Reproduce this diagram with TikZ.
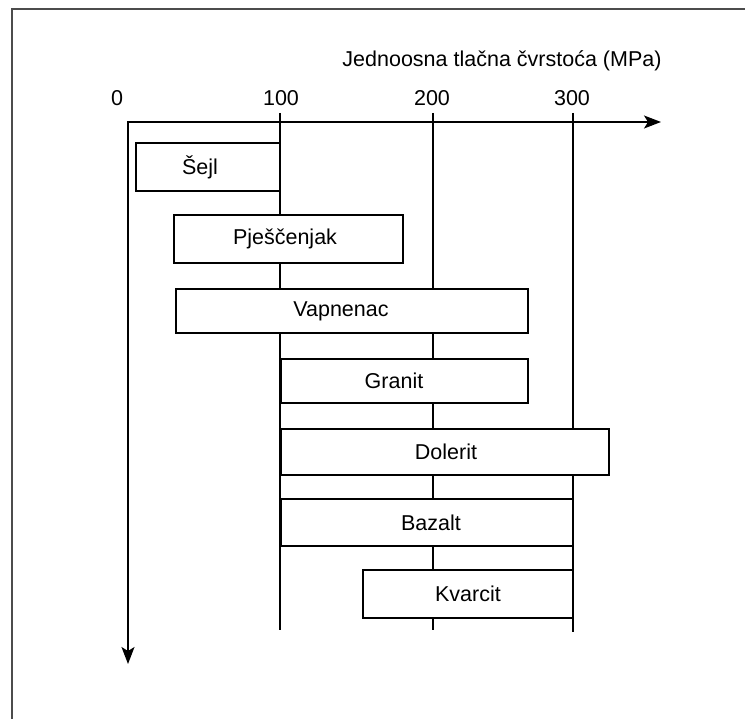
\documentclass[tikz,border=0pt]{standalone}
\usepackage{fontspec}
\setmainfont{Liberation Sans}
\usetikzlibrary{arrows.meta}
\begin{document}
\begin{tikzpicture}[x=1pt,y=-1pt,
  rockbox/.style={draw=black, line width=1.4pt, fill=white, inner sep=0pt},
  lbl/.style={font=\fontsize{21.5}{25}\selectfont, inner sep=0pt},
  grid/.style={line width=1.4pt},
  frameline/.style={draw=black!70, line width=2.4pt}]
\useasboundingbox (0,0) rectangle (745,719);
% frame (cropped)
\coordinate (fbl) at (12,719);
\coordinate (ftl) at (12,9);
\coordinate (ftr) at (745,9);
\draw[frameline] (fbl) -- (ftl) -- (ftr);
% grid lines
\coordinate (g1t) at (280,113); \coordinate (g1b) at (280,630);
\coordinate (g2t) at (433,113); \coordinate (g2b) at (433,630);
\coordinate (g3t) at (573,113); \coordinate (g3b) at (573,632);
\draw[grid] (g1t) -- (g1b);
\draw[grid] (g2t) -- (g2b);
\draw[grid] (g3t) -- (g3b);
% axes
\coordinate (xend) at (661,122);
\coordinate (origin) at (128,122);
\coordinate (yend) at (128,664);
\draw[line width=1.4pt, {Stealth[length=17pt,width=13pt,inset=4pt]}-{Stealth[length=17pt,width=13pt,inset=4pt]}] (xend) -- (origin) -- (yend);
% labels of axis
\node[lbl] (title) at (502,61) {Jednoosna tlačna čvrstoća (MPa)};
\node[lbl] (t0) at (117,98) {0};
\node[lbl] (t100) at (281,98) {100};
\node[lbl] (t200) at (432,98) {200};
\node[lbl] (t300) at (572,98) {300};
% boxes
\node[rockbox, minimum width=144pt, minimum height=48pt] (sejl) at (208,167) {};
\node[lbl] (sejlt) at (200,167) {Šejl};
\node[rockbox, minimum width=229pt, minimum height=48pt] (pjes) at (288.5,239) {};
\node[lbl] (pjest) at (285,239) {Pješčenjak};
\node[rockbox, minimum width=352pt, minimum height=44pt] (vapn) at (352,311) {};
\node[lbl] (vapnt) at (341,311) {Vapnenac};
\node[rockbox, minimum width=247pt, minimum height=44pt] (gran) at (404.5,381) {};
\node[lbl] (grant) at (394,381) {Granit};
\node[rockbox, minimum width=328pt, minimum height=46pt] (dol) at (445,452) {};
\node[lbl] (dolt) at (446,452) {Dolerit};
\node[rockbox, minimum width=292pt, minimum height=47pt] (baz) at (427,522.5) {};
\node[lbl] (bazt) at (431,522.5) {Bazalt};
\node[rockbox, minimum width=210pt, minimum height=48pt] (kvar) at (468,594) {};
\node[lbl] (kvart) at (468,594) {Kvarcit};
\end{tikzpicture}
\end{document}
